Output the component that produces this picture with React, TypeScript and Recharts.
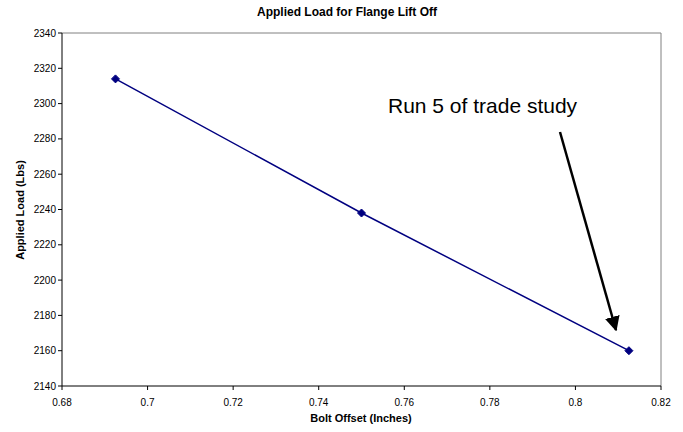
import React from 'react';
import { LineChart, Line, XAxis, YAxis, ReferenceLine } from 'recharts';

// Bolt offset (inches) vs applied load (lbs)
const boltOffset = [0.6925, 0.75, 0.8125];
const appliedLoad = [2314, 2238, 2160];

const xTicks = [0.68, 0.7, 0.72, 0.74, 0.76, 0.78, 0.8, 0.82];
const yTicks = [2140, 2160, 2180, 2200, 2220, 2240, 2260, 2280, 2300, 2320, 2340];

const chartData = boltOffset.map((x, i) => ({ x, load: appliedLoad[i] }));

const FONT = '"Liberation Sans", Arial, sans-serif';
const NAVY = '#000080';

const Diamond = (props: any) => {
  const { cx, cy, index } = props;
  if (cx == null || cy == null) return null;
  const r = 4;
  return (
    <path
      key={`dot-${index}`}
      d={`M${cx},${cy - r}L${cx + r},${cy}L${cx},${cy + r}L${cx - r},${cy}Z`}
      fill={NAVY}
      stroke={NAVY}
    />
  );
};

const fmtX = (v: number) => String(Number(v.toFixed(2)));

export default function App() {
  return (
    <div style={{ position: 'absolute', left: 0, top: 0, width: 683, height: 432, background: '#fff', fontFamily: FONT }}>
      <LineChart width={683} height={432} data={chartData} margin={{ top: 33, right: 22, bottom: 0, left: 0 }}>
        <XAxis
          dataKey="x"
          type="number"
          domain={[0.68, 0.82]}
          ticks={xTicks}
          tickFormatter={fmtX}
          height={46}
          tickSize={4}
          tickMargin={9}
          axisLine={{ stroke: '#000' }}
          tickLine={{ stroke: '#000' }}
          tick={{ fontSize: 10, fill: '#000', fontFamily: FONT }}
          allowDataOverflow
        />
        <YAxis
          type="number"
          domain={[2140, 2340]}
          ticks={yTicks}
          width={62}
          tickSize={4}
          tickMargin={2}
          axisLine={{ stroke: '#000' }}
          tickLine={{ stroke: '#000' }}
          tick={{ fontSize: 10, fill: '#000', fontFamily: FONT }}
          allowDataOverflow
        />
        <ReferenceLine y={2340} stroke="#808080" />
        <ReferenceLine x={0.82} stroke="#808080" />
        <Line
          type="linear"
          dataKey="load"
          stroke={NAVY}
          strokeWidth={1.5}
          dot={Diamond}
          activeDot={false}
          isAnimationActive={false}
        />
      </LineChart>
      <svg width={683} height={432} style={{ position: 'absolute', left: 0, top: 0, pointerEvents: 'none' }}>
        <defs>
          <marker id="arrowHead" viewBox="0 0 10 10" refX="9" refY="5" markerWidth="6" markerHeight="6" markerUnits="strokeWidth" orient="auto">
            <path d="M0,0L10,5L0,10Z" fill="#000" />
          </marker>
        </defs>
        <text x={347} y={16} textAnchor="middle" fontFamily={FONT} fontSize={12} fontWeight="bold" fill="#000">
          Applied Load for Flange Lift Off
        </text>
        <text x={361} y={422} textAnchor="middle" fontFamily={FONT} fontSize={11} fontWeight="bold" fill="#000">
          Bolt Offset (Inches)
        </text>
        <text
          x={24}
          y={210}
          textAnchor="middle"
          fontFamily={FONT}
          fontSize={11}
          fontWeight="bold"
          fill="#000"
          transform="rotate(-90 24 210)"
        >
          Applied Load (Lbs)
        </text>
        <text x={388} y={113} fontFamily={FONT} fontSize={21} fill="#000">
          Run 5 of trade study
        </text>
        <line x1={560} y1={132} x2={616} y2={330} stroke="#000" strokeWidth={2.5} markerEnd="url(#arrowHead)" />
      </svg>
    </div>
  );
}
